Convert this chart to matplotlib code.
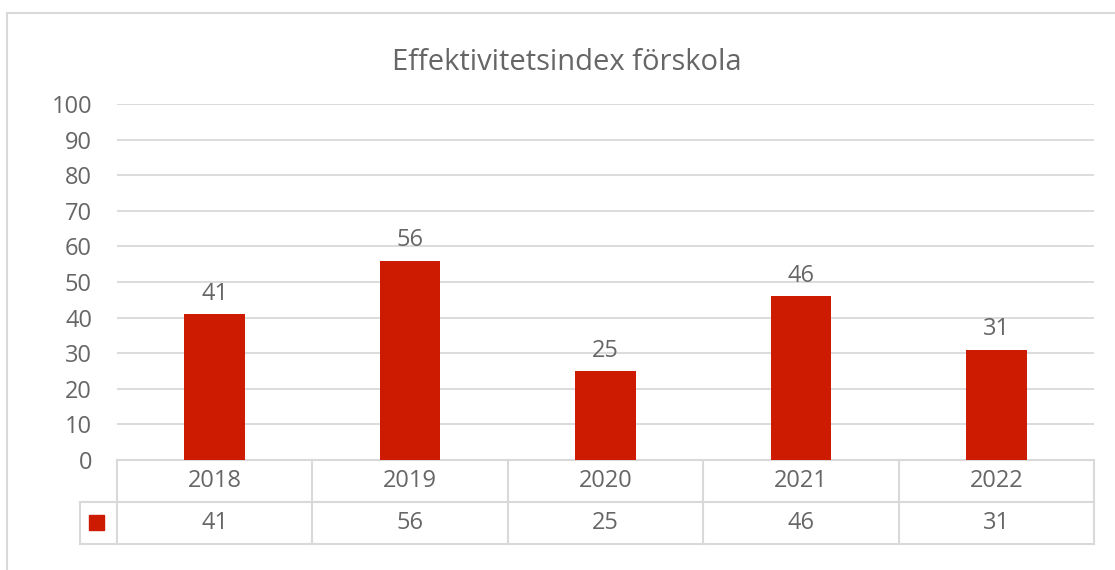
import matplotlib
matplotlib.use("Agg")
import matplotlib.pyplot as plt
import matplotlib.transforms as mtransforms
from matplotlib.patches import Rectangle

years = ["2018", "2019", "2020", "2021", "2022"]
values = [41, 56, 25, 46, 31]
yticks = [0, 10, 20, 30, 40, 50, 60, 70, 80, 90, 100]
title = "Effektivitetsindex förskola"

bar_color = "#CC1B00"
text_color = "#666666"
grid_color = "#D9D9D9"

plt.rcParams['font.family'] = ['Open Sans', 'DejaVu Sans']

fig = plt.figure(figsize=(11.15, 5.70), dpi=100)
W, H = 1115, 570

# outer chart border (only top and left visible in the reference)
fig.add_artist(plt.Line2D([7 / W, 7 / W], [0, 1 - 13 / H], color=grid_color, lw=1.5))
fig.add_artist(plt.Line2D([7 / W, 1], [1 - 13 / H, 1 - 13 / H], color=grid_color, lw=1.5))

left, right = 117 / W, 1094 / W
bottom, top = 1 - 460 / H, 1 - 104 / H
ax = fig.add_axes([left, bottom, right - left, top - bottom])

x = list(range(len(years)))
ax.bar(x, values, width=0.31, color=bar_color, zorder=3)
for xi, v in zip(x, values):
    ax.annotate(str(v), (xi, v), xytext=(0, 6), textcoords="offset points",
                ha="center", va="bottom", fontsize=17, color=text_color)

ax.set_xlim(-0.5, len(years) - 0.5)
ax.set_ylim(0, 100)
ax.set_yticks(yticks)
ax.set_yticklabels([str(t) for t in yticks], fontsize=17, color=text_color)
ax.tick_params(axis="y", length=0, pad=18)
ax.set_xticks([])
ax.grid(axis="y", color=grid_color, lw=1.3, zorder=0)
for s in ax.spines.values():
    s.set_visible(False)

fig.text(567 / W, 1 - 62 / H, title, ha="center", va="center",
         fontsize=21, color=text_color)

# data table below the plot, in data x / axes-fraction y
trans = mtransforms.blended_transform_factory(ax.transData, ax.transAxes)
axh = 460 - 104
r1 = -42 / axh
r2 = -84 / axh
legend_x = -0.5 - 37 / (977 / 5)
tl = dict(color=grid_color, lw=1.5, transform=trans, clip_on=False)
ax.plot([-0.5, 4.5], [0, 0], **tl)
ax.plot([legend_x, 4.5], [r1, r1], **tl)
ax.plot([legend_x, 4.5], [r2, r2], **tl)
ax.plot([legend_x, legend_x], [r1, r2], **tl)
for b in range(6):
    ax.plot([b - 0.5, b - 0.5], [0, r2], **tl)
for xi, yr, v in zip(x, years, values):
    ax.text(xi, r1 / 2, yr, transform=trans, ha="center", va="center",
            fontsize=17, color=text_color, clip_on=False)
    ax.text(xi, (r1 + r2) / 2, str(v), transform=trans, ha="center", va="center",
            fontsize=17, color=text_color, clip_on=False)

# legend key in the table
fig.add_artist(Rectangle((89 / W, 1 - 530 / H), 15 / W, 15 / H,
                         color=bar_color, transform=fig.transFigure))

fig.savefig("out.png", dpi=100, facecolor="white")
